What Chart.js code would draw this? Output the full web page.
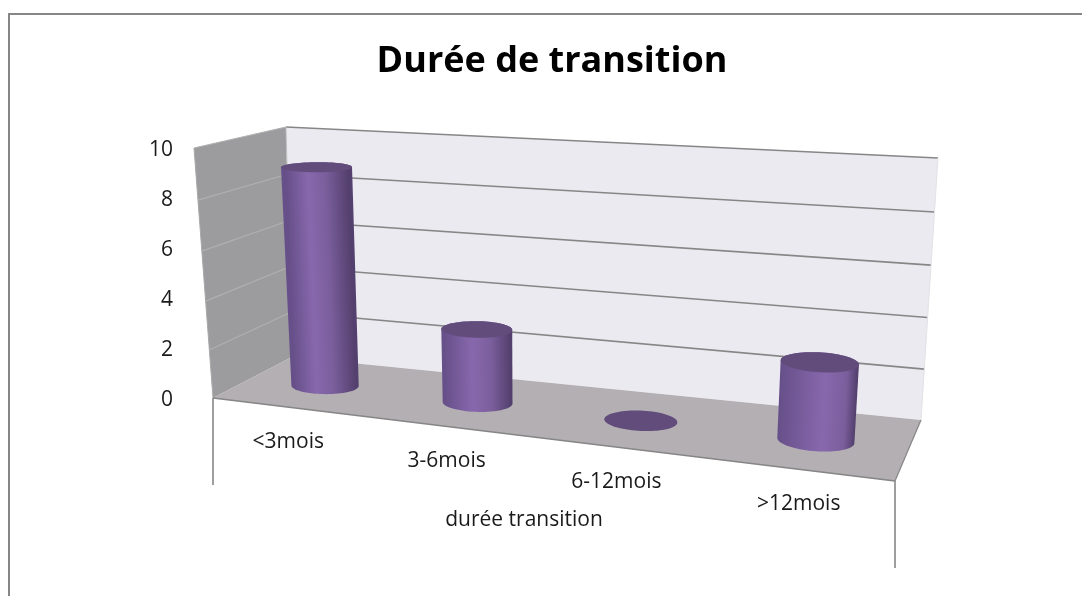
<!DOCTYPE html>
<html>
<head>
<meta charset="utf-8">
<title>Durée de transition</title>
<script src="https://cdn.jsdelivr.net/npm/chart.js@4"></script>
<style>
  html, body { margin: 0; padding: 0; background: #fff; overflow: hidden; }
  #wrap { width: 1082px; height: 596px; position: relative; }
</style>
</head>
<body>
<div id="wrap"><canvas id="chart-id"></canvas></div>
<script>
const categories = ["<3mois", "3-6mois", "6-12mois", ">12mois"];
const values = [9, 3, 0, 3];
const yTicks = [0, 2, 4, 6, 8, 10];
const chartTitle = "Durée de transition";
const xTitle = "durée transition";

// box corners as seen on screen: [u, v] = [0,0] [1,0] [1,1] [0,1]
const backPlane = [[292, 357], [921, 420], [938, 158], [286, 127]];
const frontPlane = [[213, 398], [895, 481], [915, 196], [194, 148]];

function homography(q) {
  const [p0, p1, p2, p3] = q;
  const dx1 = p1[0] - p2[0], dx2 = p3[0] - p2[0], sx = p0[0] - p1[0] + p2[0] - p3[0];
  const dy1 = p1[1] - p2[1], dy2 = p3[1] - p2[1], sy = p0[1] - p1[1] + p2[1] - p3[1];
  const d = dx1 * dy2 - dx2 * dy1;
  const g = (sx * dy2 - dx2 * sy) / d, h = (dx1 * sy - sx * dy1) / d;
  const a = p1[0] - p0[0] + g * p1[0], b = p3[0] - p0[0] + h * p3[0];
  const c = p1[1] - p0[1] + g * p1[1], e = p3[1] - p0[1] + h * p3[1];
  return (u, v) => {
    const w = g * u + h * v + 1;
    return [(a * u + b * v + p0[0]) / w, (c * u + e * v + p0[1]) / w];
  };
}
const back = homography(backPlane);
const front = homography(frontPlane);

// w = 0 back wall, w = 1 front edge
function project(u, v, w) {
  const b = back(u, v), f = front(u, v);
  return [b[0] + (f[0] - b[0]) * w, b[1] + (f[1] - b[1]) * w];
}

function poly(ctx, pts, fill) {
  ctx.beginPath();
  pts.forEach((p, i) => i ? ctx.lineTo(p[0], p[1]) : ctx.moveTo(p[0], p[1]));
  ctx.closePath();
  ctx.fillStyle = fill;
  ctx.fill();
}

function line(ctx, a, b, color, width) {
  ctx.beginPath();
  ctx.moveTo(a[0], a[1]);
  ctx.lineTo(b[0], b[1]);
  ctx.strokeStyle = color;
  ctx.lineWidth = width;
  ctx.stroke();
}

function hull(points) {
  const pts = points.slice().sort((a, b) => a[0] - b[0] || a[1] - b[1]);
  const cross = (o, a, b) => (a[0] - o[0]) * (b[1] - o[1]) - (a[1] - o[1]) * (b[0] - o[0]);
  const half = list => {
    const out = [];
    list.forEach(p => {
      while (out.length > 1 && cross(out[out.length - 2], out[out.length - 1], p) <= 0) out.pop();
      out.push(p);
    });
    out.pop();
    return out;
  };
  return half(pts).concat(half(pts.slice().reverse()));
}

function disc(u, v, ru) {
  const pts = [];
  for (let i = 0; i < 72; i++) {
    const t = i / 72 * Math.PI * 2;
    pts.push(project(u + ru * Math.cos(t), v, 0.5 + 0.18 * Math.sin(t)));
  }
  return pts;
}

const box3d = {
  id: 'box3d',
  beforeDatasetsDraw(chart) {
    const ctx = chart.ctx, y = chart.scales.y;
    const vOf = val => (y.bottom - y.getPixelForValue(val)) / (y.bottom - y.top);
    ctx.save();
    // frame is cut off on the right and at the bottom
    line(ctx, [8, 14], [chart.width, 14], '#868686', 2);
    line(ctx, [9, 14], [9, chart.height], '#868686', 2);
    // walls and floor
    poly(ctx, [project(0, 0, 1), project(0, 1, 1), project(0, 1, 0), project(0, 0, 0)], '#9c9b9e');
    poly(ctx, [project(0, 0, 0), project(0, 1, 0), project(1, 1, 0), project(1, 0, 0)], '#ecEAF1');
    poly(ctx, [project(0, 0, 1), project(0, 0, 0), project(1, 0, 0), project(1, 0, 1)], '#b3afb3');
    y.ticks.forEach(t => {
      const v = vOf(t.value);
      if (v > 0) {
        line(ctx, project(0, v, 1), project(0, v, 0), '#b0b0b0', 1.2);
        line(ctx, project(0, v, 0), project(1, v, 0), '#868686', 1.6);
      }
    });
    line(ctx, project(0, 1, 0), project(0, 0, 0), '#c0c0c0', 1);
    line(ctx, project(1, 1, 0), project(1, 0, 0), '#e2e2e6', 1);
    line(ctx, project(0, 1, 1), project(0, 0, 1), '#a8a8a8', 1);
    // floor front edge and the two axis drops
    line(ctx, project(0, 0, 1), project(1, 0, 1), '#868686', 1.5);
    line(ctx, project(1, 0, 1), project(1, 0, 0), '#868686', 1.2);
    const fl = project(0, 0, 1), fr = project(1, 0, 1);
    line(ctx, fl, [fl[0], fl[1] + 87], '#868686', 1.6);
    line(ctx, fr, [fr[0], fr[1] + 87], '#868686', 1.6);
    ctx.restore();
  },
  afterDatasetsDraw(chart) {
    const ctx = chart.ctx, xs = chart.scales.x, y = chart.scales.y;
    const meta = chart.getDatasetMeta(0);
    ctx.save();
    meta.data.forEach(bar => {
      const u = (bar.x - xs.left) / (xs.right - xs.left);
      const ru = bar.width / 2 / (xs.right - xs.left);
      const v0 = (y.bottom - bar.base) / (y.bottom - y.top);
      const v1 = (y.bottom - bar.y) / (y.bottom - y.top);
      const bottom = disc(u, v0, ru), top = disc(u, v1, ru);
      if (v1 > v0) {
        // shading runs across the (slightly leaning) cylinder axis
        const left = project(u - ru, v0, 0.5), right = project(u + ru, v0, 0.5);
        const c0 = project(u, v0, 0.5), c1 = project(u, v1, 0.5);
        const ax = c1[0] - c0[0], ay = c1[1] - c0[1];
        const dx = right[0] - left[0], dy = right[1] - left[1];
        const k = (dx * ax + dy * ay) / (ax * ax + ay * ay);
        const g = ctx.createLinearGradient(left[0], left[1], left[0] + dx - k * ax, left[1] + dy - k * ay);
        const hi = 0.32 + 0.3 * u;
        g.addColorStop(0, '#67508a');
        g.addColorStop(hi, '#8868ad');
        g.addColorStop(Math.min(hi + 0.28, 0.9), '#7a5e9c');
        g.addColorStop(1, '#54406e');
        poly(ctx, hull(bottom.concat(top)), g);
      }
      poly(ctx, top, '#624c7c');
    });
    // x labels hang under the floor's front edge
    ctx.fillStyle = '#1a1a1a';
    ctx.font = '21px "Open Sans"';
    ctx.textAlign = 'center';
    ctx.textBaseline = 'middle';
    categories.forEach((c, i) => {
      const u = (xs.getPixelForValue(i) - xs.left) / (xs.right - xs.left);
      const p = project(u, 0, 1);
      ctx.fillText(c, p[0], p[1] + 35);
    });
    ctx.fillText(xTitle, 524, 520);
    ctx.restore();
  }
};

new Chart(document.getElementById('chart-id'), {
  type: 'bar',
  data: {
    labels: categories,
    datasets: [{
      label: xTitle,
      data: values,
      backgroundColor: 'transparent',
      barPercentage: 0.42,
      categoryPercentage: 1,
    }],
  },
  options: {
    responsive: true,
    maintainAspectRatio: false,
    animation: false,
    layout: { padding: { left: 22, right: 0, top: 0, bottom: 188 } },
    plugins: {
      legend: { display: false },
      tooltip: { enabled: false },
      title: {
        display: true,
        text: chartTitle,
        color: '#000',
        font: { family: '"Open Sans"', size: 36, weight: 'bold' },
        padding: { top: 40, bottom: 67 },
      },
    },
    scales: {
      x: {
        ticks: { display: false },
        grid: { display: false },
        border: { display: false },
      },
      y: {
        min: 0,
        max: 10,
        afterBuildTicks(s) { s.ticks = yTicks.map(value => ({ value })); },
        afterFit(s) { s.width = 161; },
        ticks: { padding: 10, color: '#1a1a1a', font: { family: '"Open Sans"', size: 21 } },
        grid: { display: false, drawTicks: false },
        border: { display: false },
      },
    },
  },
  plugins: [box3d],
});
</script>
</body>
</html>
